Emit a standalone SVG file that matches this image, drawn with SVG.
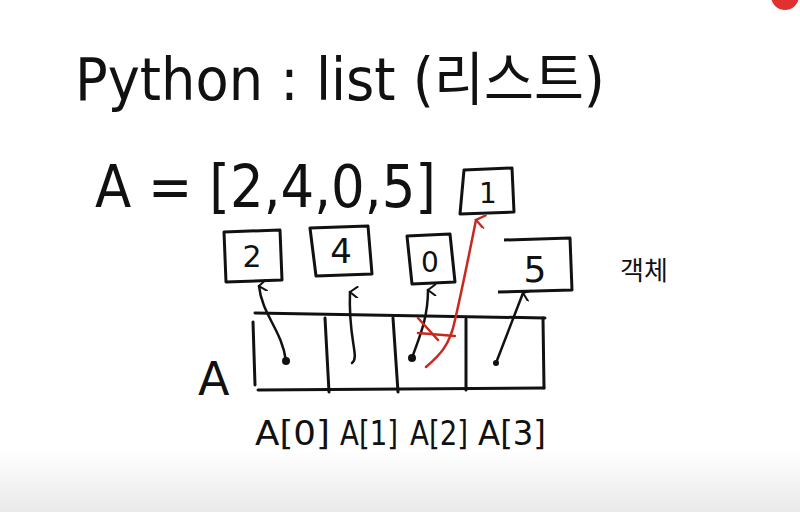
<svg xmlns="http://www.w3.org/2000/svg" width="800" height="512" viewBox="0 0 800 512">
<defs>
<linearGradient id="bg" x1="0" y1="0" x2="0" y2="1">
<stop offset="0" stop-color="#ffffff"/>
<stop offset="1" stop-color="#e9e9e9"/>
</linearGradient>
<marker id="ah" viewBox="0 0 12 12" refX="6" refY="2" markerWidth="12" markerHeight="12" markerUnits="userSpaceOnUse" orient="auto-start-reverse">
<path d="M0,10 L6,2 L12,10" fill="none" stroke="#111" stroke-width="2"/>
</marker>
<marker id="ahr" viewBox="0 0 12 12" refX="6" refY="2" markerWidth="14" markerHeight="14" markerUnits="userSpaceOnUse" orient="auto">
<path d="M0,10 L6,2 L12,10" fill="none" stroke="#c8281e" stroke-width="2"/>
</marker>
</defs>
<style>
.hw{font-family:"DejaVu Sans","Noto Sans CJK KR",sans-serif;fill:#111}
.box{fill:none;stroke:#111;stroke-width:3;stroke-linejoin:round}
.ln{fill:none;stroke:#111;stroke-width:3;stroke-linecap:round}
.con{fill:none;stroke:#111;stroke-width:2.5;stroke-linecap:round}
.red{fill:none;stroke:#c8281e;stroke-width:2.5;stroke-linecap:round}
.dot{fill:#111}
</style>
<rect width="800" height="512" fill="#fff"/>
<rect y="450" width="800" height="62" fill="url(#bg)"/>
<circle cx="785" cy="-4" r="14" fill="#e03030"/>

<g id="title">
<text class="hw" x="75" y="100" font-size="58" textLength="530" lengthAdjust="spacingAndGlyphs">Python : list (리스트)</text>
</g>
<g id="assign">
<text class="hw" transform="translate(95,207) scale(1,1.12)" x="0" y="0" font-size="53">A = [2,4,0,5]</text>
</g>

<g id="box1">
<path class="box" d="M464,170 L512,168 L514,212 L460,214 Z"/>
<text class="hw" x="488" y="203" font-size="28" text-anchor="middle">1</text>
</g>
<g id="box2">
<path class="box" d="M224,232 L280,230 L282,280 L226,282 Z"/>
<text class="hw" x="252" y="267" font-size="30" text-anchor="middle">2</text>
</g>
<g id="box4">
<path class="box" d="M310,228 L368,226 L372,274 L316,276 Z"/>
<text class="hw" x="341" y="263" font-size="34" text-anchor="middle">4</text>
</g>
<g id="box0">
<path class="box" d="M407,236 L450,234 L455,282 L412,284 Z"/>
<text class="hw" x="430" y="272" font-size="28" text-anchor="middle">0</text>
</g>
<g id="box5">
<path class="box" d="M504,240 L570,238 L572,290 L498,292"/>
<text class="hw" x="535" y="282" font-size="36" text-anchor="middle">5</text>
</g>
<g id="objLabel">
<text class="hw" x="620" y="280" font-size="26">객체</text>
</g>

<g id="array">
<text class="hw" x="198" y="395" font-size="46">A</text>
<path class="ln" d="M253,322 L255,385"/>
<path class="ln" d="M255,313 L545,318"/>
<path class="ln" d="M258,390 L544,388"/>
<path class="ln" d="M325,318 L329,392"/>
<path class="ln" d="M393,318 L398,392"/>
<path class="ln" d="M466,319 L466,390"/>
<path class="ln" d="M543,318 L544,388"/>
</g>
<g id="indexLabels">
<text class="hw" x="255" y="445" font-size="34" textLength="75" lengthAdjust="spacingAndGlyphs">A[0]</text>
<text class="hw" x="340" y="445" font-size="34" textLength="58" lengthAdjust="spacingAndGlyphs">A[1]</text>
<text class="hw" x="410" y="445" font-size="34" textLength="58" lengthAdjust="spacingAndGlyphs">A[2]</text>
<text class="hw" x="478" y="445" font-size="34" textLength="68" lengthAdjust="spacingAndGlyphs">A[3]</text>
</g>

<g id="connectors">
<path class="con" d="M286,361 C282,330 262,315 259,286" marker-end="url(#ah)"/>
<circle class="dot" cx="286" cy="361" r="4"/>
<path class="con" d="M352,363 C360,357 348,340 350,292" marker-end="url(#ah)"/>
<path class="con" d="M412,358 C418,340 428,320 428,290" marker-end="url(#ah)"/>
<circle class="dot" cx="412" cy="358" r="4"/>
<path class="con" d="M496,363 L523,293" marker-end="url(#ah)"/>
<circle class="dot" cx="496" cy="363" r="3"/>
<path class="red" d="M426,367 C440,355 450,345 455,320 C462,290 468,260 476,220" marker-end="url(#ahr)"/>
<path class="red" d="M418,333 L455,336"/>
<path class="red" d="M418,318 L438,340"/>
</g>
</svg>
